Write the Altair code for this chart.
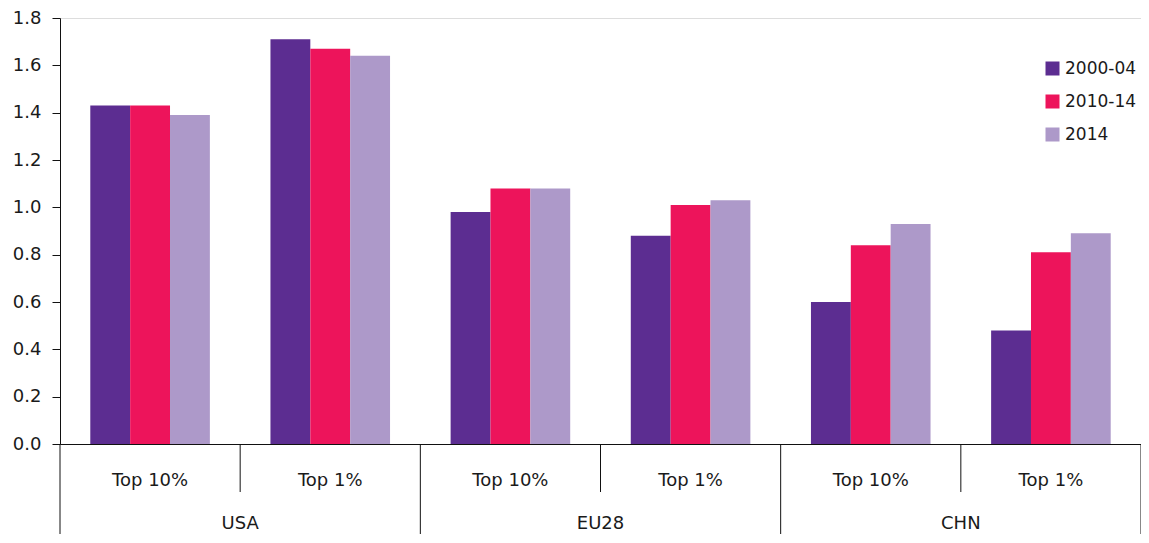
import altair as alt
import pandas as pd

countries = ["USA", "USA", "EU28", "EU28", "CHN", "CHN"]
subgroups = ["Top 10%", "Top 1%", "Top 10%", "Top 1%", "Top 10%", "Top 1%"]
series = ["2000-04", "2010-14", "2014"]
v_2000_04 = [1.43, 1.71, 0.98, 0.88, 0.60, 0.48]
v_2010_14 = [1.43, 1.67, 1.08, 1.01, 0.84, 0.81]
v_2014 = [1.39, 1.64, 1.08, 1.03, 0.93, 0.89]
colors = ["#5c2d91", "#ed145b", "#ad99c9"]
y_ticks = [0, 0.2, 0.4, 0.6, 0.8, 1.0, 1.2, 1.4, 1.6, 1.8]

FONT = "DejaVu Sans"
FS = 18
TXT = "#1a1a1a"

W, H = 1081, 426

keys = [f"{c}|{s}" for c, s in zip(countries, subgroups)]
rows = []
for k, c, s, a, b, d in zip(keys, countries, subgroups, v_2000_04, v_2010_14, v_2014):
    for ser, v in zip(series, (a, b, d)):
        rows.append(dict(key=k, country=c, sub=s, series=ser, value=v))
bars_df = pd.DataFrame(rows)
sub_df = pd.DataFrame(dict(key=keys, sub=subgroups))
country_df = pd.DataFrame(dict(key=keys[1::2], country=countries[1::2]))
short_df = pd.DataFrame(dict(key=keys[1::2]))
long_df = pd.DataFrame(dict(key=keys[0::2]))
end_df = pd.DataFrame(dict(key=keys[-1:]))

x_scale = alt.Scale(domain=keys, paddingInner=0, paddingOuter=0)

bars = alt.Chart(bars_df).mark_bar().encode(
    x=alt.X("key:N", scale=x_scale, sort=keys,
            axis=alt.Axis(labels=False, ticks=False, title=None,
                          domainColor="#111", domainWidth=1)),
    xOffset=alt.XOffset("series:N", sort=series,
                        scale=alt.Scale(domain=series, paddingOuter=0.76, paddingInner=0)),
    y=alt.Y("value:Q", scale=alt.Scale(domain=[0, 1.8], nice=False),
            axis=alt.Axis(values=y_ticks, format=".1f", title=None, grid=False,
                          tickSize=8, tickColor="#111", domainColor="#111",
                          labelFontSize=FS, labelColor=TXT, labelFont=FONT,
                          labelPadding=11)),
    color=alt.Color("series:N", sort=series,
                    scale=alt.Scale(domain=series, range=colors),
                    legend=alt.Legend(orient="none", legendX=984, legendY=42,
                                      title=None, symbolType="square",
                                      symbolSize=196, symbolStrokeWidth=0,
                                      labelFontSize=17, labelFont=FONT,
                                      labelColor=TXT, rowPadding=15,
                                      labelOffset=4)),
)

sub_text = alt.Chart(sub_df).mark_text(fontSize=FS, font=FONT, color=TXT,
                                       baseline="middle").encode(
    x=alt.X("key:N", scale=x_scale, sort=keys),
    y=alt.value(463),
    text="sub:N",
)

country_text = alt.Chart(country_df).mark_text(fontSize=FS, font=FONT, color=TXT,
                                               baseline="middle").encode(
    x=alt.X("key:N", scale=x_scale, sort=keys, bandPosition=0),
    y=alt.value(506),
    text="country:N",
)

short_rules = alt.Chart(short_df).mark_rule(color="#111", strokeWidth=1).encode(
    x=alt.X("key:N", scale=x_scale, sort=keys, bandPosition=0),
    y=alt.value(H), y2=alt.value(474),
)
long_rules = alt.Chart(long_df).mark_rule(color="#111", strokeWidth=1).encode(
    x=alt.X("key:N", scale=x_scale, sort=keys, bandPosition=0),
    y=alt.value(H), y2=alt.value(540),
)
end_rule = alt.Chart(end_df).mark_rule(color="#111", strokeWidth=1).encode(
    x=alt.X("key:N", scale=x_scale, sort=keys, bandPosition=1),
    y=alt.value(H), y2=alt.value(540),
)

chart = alt.layer(bars, short_rules, long_rules, end_rule, sub_text, country_text).properties(
    width=W, height=H,
    autosize=alt.AutoSizeParams(type="none"),
    padding={"left": 52, "top": 10, "right": 0, "bottom": 90},
).configure_view(stroke=None).configure(font=FONT)

chart.save("out.html", embed_options={"renderer": "svg", "actions": False})
